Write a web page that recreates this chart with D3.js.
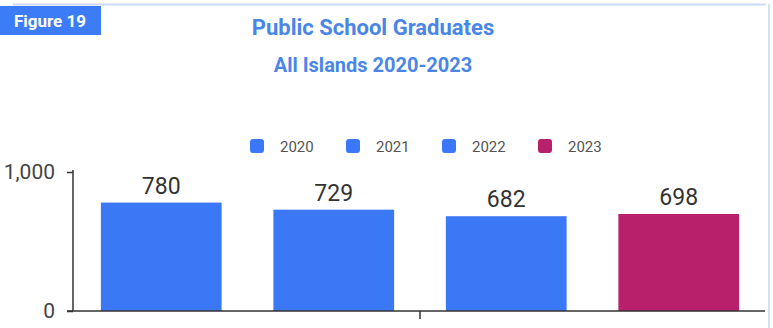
<!DOCTYPE html>
<html>
<head>
<meta charset="utf-8">
<script src="https://d3js.org/d3.v7.min.js"></script>
<style>
body { margin: 0; background: #fff; }
svg { display: block; font-family: Roboto, "Noto Sans", sans-serif; }
</style>
</head>
<body>
<div id="main"></div>
<script>
// data
var years = ["2020", "2021", "2022", "2023"];
var graduates = [780, 729, 682, 698];
var yTicks = [0, 1000];
var barColors = ["#3b78f5", "#3b78f5", "#3b78f5", "#b8206b"];

var width = 773, height = 328;

var svg = d3.select("#main").append("svg")
    .attr("width", width)
    .attr("height", height);

// frame lines
svg.append("line")
    .attr("x1", 13).attr("x2", 766).attr("y1", 4.5).attr("y2", 4.5)
    .attr("stroke", "#c9dafa").attr("stroke-width", 2);
svg.append("line")
    .attr("x1", 769).attr("x2", 769).attr("y1", 4).attr("y2", height)
    .attr("stroke", "#d3e1fb").attr("stroke-width", 2);

// figure badge
svg.append("rect")
    .attr("x", 0).attr("y", 6).attr("width", 101).attr("height", 29)
    .attr("fill", "#3d7cf7");
svg.append("text")
    .attr("x", 50).attr("y", 27)
    .attr("text-anchor", "middle")
    .attr("fill", "#fff")
    .style("font-size", "17px").style("font-weight", "bold")
    .text("Figure 19");

// titles
svg.append("text")
    .attr("x", 373).attr("y", 35)
    .attr("text-anchor", "middle")
    .attr("fill", "#4a86e8")
    .style("font-size", "22px").style("font-weight", "bold")
    .text("Public School Graduates");
svg.append("text")
    .attr("x", 373).attr("y", 72)
    .attr("text-anchor", "middle")
    .attr("fill", "#4a86e8")
    .style("font-size", "20px").style("font-weight", "bold")
    .text("All Islands 2020-2023");

// legend
var legendX = d3.scalePoint().domain(years).range([250, 538]);
var leg = svg.selectAll(".leg")
    .data(years)
  .enter().append("g")
    .attr("class", "leg")
    .attr("transform", function(d) { return "translate(" + legendX(d) + ",139)"; });
leg.append("rect")
    .attr("width", 14).attr("height", 14).attr("rx", 3)
    .attr("fill", function(d, i) { return barColors[i]; });
leg.append("text")
    .attr("x", 30).attr("y", 12.5)
    .attr("fill", "#555")
    .style("font-size", "15px")
    .text(function(d) { return d; });

// scales
var x = d3.scaleBand()
    .domain(years)
    .range([75, 765])
    .paddingInner(0.3)
    .paddingOuter(0.15);
var y = d3.scaleLinear()
    .domain([0, 1000])
    .range([311, 172]);

// bars
svg.selectAll(".bar")
    .data(graduates)
  .enter().append("rect")
    .attr("class", "bar")
    .attr("x", function(d, i) { return x(years[i]); })
    .attr("width", x.bandwidth())
    .attr("y", function(d) { return y(d); })
    .attr("height", function(d) { return y(0) - y(d); })
    .attr("fill", function(d, i) { return barColors[i]; });

svg.selectAll(".val")
    .data(graduates)
  .enter().append("text")
    .attr("class", "val")
    .attr("x", function(d, i) { return x(years[i]) + x.bandwidth() / 2; })
    .attr("y", function(d) { return y(d) - 9; })
    .attr("text-anchor", "middle")
    .attr("fill", "#333")
    .style("font-size", "23px")
    .text(function(d) { return d; });

// y axis
var yAxis = svg.append("g")
    .attr("transform", "translate(73,0)")
    .call(d3.axisLeft(y).tickValues(yTicks).tickFormat(d3.format(",")).tickSize(6).tickPadding(12));
yAxis.select(".domain").attr("stroke", "#333").attr("stroke-width", 1.5)
    .attr("d", "M0,170V311");
yAxis.selectAll(".tick line").attr("stroke", "#333").attr("stroke-width", 1.5);
yAxis.selectAll(".tick text").attr("fill", "#444").style("font-size", "21px")
    .style("font-family", "Roboto, sans-serif");

// x axis baseline with one center tick
svg.append("line")
    .attr("x1", 67).attr("x2", 765).attr("y1", y(0)).attr("y2", y(0))
    .attr("stroke", "#333").attr("stroke-width", 1.5);
svg.append("line")
    .attr("x1", (x.range()[0] + x.range()[1]) / 2)
    .attr("x2", (x.range()[0] + x.range()[1]) / 2)
    .attr("y1", y(0)).attr("y2", y(0) + 8)
    .attr("stroke", "#333").attr("stroke-width", 1.5);
</script>
</body>
</html>
